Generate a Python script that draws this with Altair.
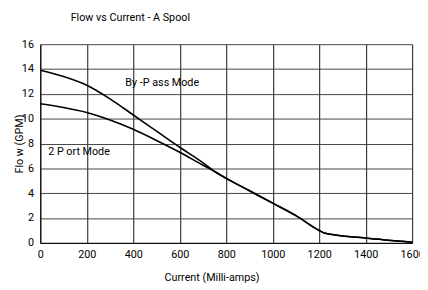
import altair as alt
import pandas as pd

# By-Pass Mode curve
bypass_x = [0, 100, 200, 300, 400, 500, 600, 700, 750, 800, 900, 1000, 1100, 1200, 1225, 1400, 1600]
bypass_y = [13.9, 13.4, 12.7, 11.6, 10.3, 9.0, 7.7, 6.45, 5.75, 5.2, 4.2, 3.2, 2.2, 1.0, 0.78, 0.39, 0.05]
# 2 Port Mode curve
port_x = [0, 100, 200, 300, 400, 500, 600, 700, 750, 800, 900, 1000, 1100, 1200, 1225, 1400, 1600]
port_y = [11.2, 10.9, 10.5, 9.9, 9.15, 8.25, 7.3, 6.25, 5.75, 5.2, 4.2, 3.2, 2.2, 1.0, 0.78, 0.39, 0.05]

labels = ["By  -P ass Mode", "2 P   ort Mode"]
label_x = [366, 34]
label_y = [12.85, 7.3]

x_ticks = [0, 200, 400, 600, 800, 1000, 1200, 1400, 1600]
y_ticks = [0, 2, 4, 6, 8, 10, 12, 14, 16]

FONT = "Roboto"

df = pd.concat([
    pd.DataFrame({"current": bypass_x, "flow": bypass_y, "series": "bypass"}),
    pd.DataFrame({"current": port_x, "flow": port_y, "series": "port"}),
])
lab = pd.DataFrame({"current": label_x, "flow": label_y, "text": labels})

x_enc = alt.X("current:Q", scale=alt.Scale(domain=[0, 1600], nice=False),
              axis=alt.Axis(values=x_ticks, title="Current (Milli-amps)", ticks=False,
                            format="d", labelPadding=6, titlePadding=12, titleX=175,
                            labelOverlap=False, labelFlush=False,
                            grid=True, gridColor="#111"))
y_enc = alt.Y("flow:Q", scale=alt.Scale(domain=[0, 16], nice=False),
              axis=alt.Axis(values=y_ticks, title="Flo  w (GPM)", ticks=False,
                            labelPadding=7, titleX=-16, labelOverlap=False,
                            grid=True, gridColor="#444"))

lines = alt.Chart(df).mark_line(color="black", strokeWidth=1.6, interpolate="monotone").encode(
    x=x_enc, y=y_enc, detail="series:N"
)
texts = alt.Chart(lab).mark_text(align="left", baseline="middle", fontSize=11, font=FONT,
                                 color="black").encode(
    x=x_enc, y=y_enc, text="text:N"
)

chart = alt.layer(lines, texts).properties(
    width=380, height=203,
    title=alt.TitleParams("Flow vs Current - A Spool", anchor="start", frame="group",
                          dx=31, offset=16,
                          fontSize=11, fontWeight="normal", font=FONT),
    autosize=alt.AutoSizeParams(type="none"),
    padding={"left": 33, "top": 34, "right": 8, "bottom": 38},
).configure_view(stroke=None).configure_axis(
    labelFont=FONT, titleFont=FONT, labelFontSize=11, titleFontSize=11,
    titleFontWeight="normal", labelColor="black", titleColor="black",
    domainColor="black", gridOpacity=1, gridWidth=1
)

chart.save("out.html", embed_options={"renderer": "svg", "actions": False})
